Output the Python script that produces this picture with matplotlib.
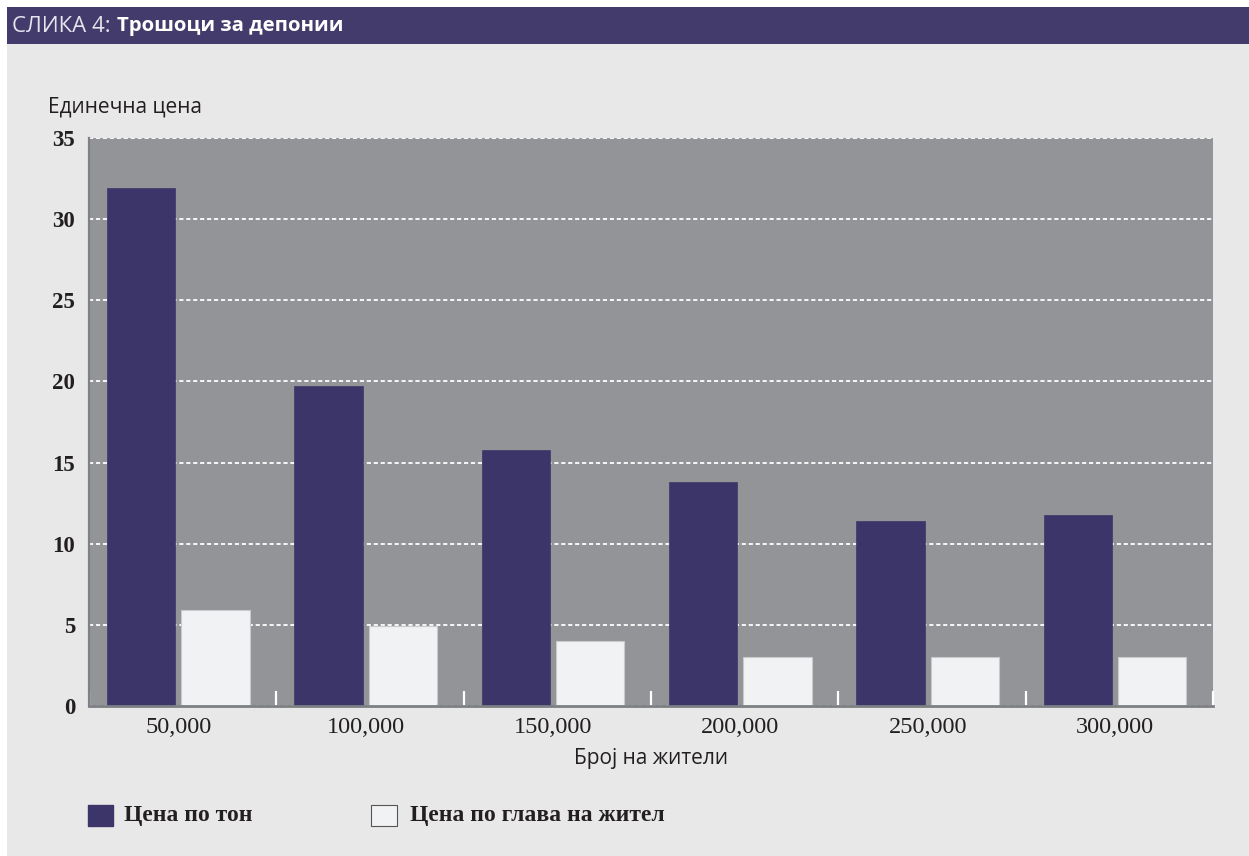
import numpy as np
import matplotlib.pyplot as plt
from matplotlib.patches import Rectangle

plt.rcParams['lines.scale_dashes'] = False

# Трошоци за депонии по број на жители
zhiteli = ["50,000", "100,000", "150,000", "200,000", "250,000", "300,000"]
cena_po_ton = [31.9, 19.7, 15.8, 13.8, 11.4, 11.8]
cena_po_glava = [5.9, 4.9, 4.0, 3.0, 3.0, 3.0]

dark = "#3c3569"
light = "#f1f2f4"
plot_bg = "#939498"
page_bg = "#e8e8e8"
header = "#433b6b"

fig = plt.figure(figsize=(12.49, 8.56), dpi=100)
fig.patch.set_facecolor("white")

# page background and header band
fig.patches.append(Rectangle((7 / 1249, 0), 1, 1 - 44 / 856, transform=fig.transFigure,
                             facecolor=page_bg, edgecolor="none", zorder=-2))
fig.patches.append(Rectangle((7 / 1249, 1 - 44 / 856), 1, 37 / 856, transform=fig.transFigure,
                             facecolor=header, edgecolor="none", zorder=-2))
fig.text(12 / 1249, 1 - 26 / 856, "СЛИКА 4:", color="#e6e4ee", fontsize=16,
         family="Open Sans", va="center", ha="left")
fig.text(117 / 1249, 1 - 26 / 856, "Трошоци за депонии", color="white", fontsize=14.7,
         family="Open Sans", weight="bold", va="center", ha="left")

ax = fig.add_axes([89 / 1249, 1 - 706 / 856, 1124 / 1249, 568 / 856])
ax.set_facecolor(plot_bg)

x = np.arange(len(zhiteli))
w = 0.365
ax.bar(x - 0.222, cena_po_ton, width=w, color=dark, edgecolor=dark, linewidth=0.5, zorder=3)
ax.bar(x + 0.176, cena_po_glava, width=w, color=light, edgecolor="#c9cace", linewidth=0.8, zorder=3)

ax.set_xlim(-0.5, 5.5)
ax.set_ylim(0, 35)
ax.set_yticks(np.arange(0, 36, 5))
ax.yaxis.grid(True, color="white", linestyle=(0, (3, 2)), linewidth=1.3, zorder=1)
ax.set_axisbelow(True)

ax.set_xticks(x - 0.023)
ax.set_xticklabels(zhiteli, family="Liberation Serif", fontsize=17.5, color="#231f20")
ax.set_xticks(np.arange(-0.5, 6, 1), minor=True)
ax.tick_params(axis="x", which="major", length=0, pad=8)
ax.tick_params(axis="x", which="minor", direction="in", length=11, width=1.6, color="white")
ax.tick_params(axis="y", length=0, pad=10)
for lab in ax.get_yticklabels():
    lab.set_family("Liberation Serif")
    lab.set_weight("bold")
    lab.set_fontsize(16.5)
    lab.set_color("#231f20")
    lab.set_verticalalignment("center_baseline")

for side in ["top", "right"]:
    ax.spines[side].set_visible(False)
ax.spines["left"].set_color("#808185")
ax.spines["left"].set_linewidth(1.6)
ax.spines["bottom"].set_color("#7e7f83")
ax.spines["bottom"].set_linewidth(2)
ax.spines["bottom"].set_zorder(4)

ax.set_xlabel("Број на жители", family="Open Sans", fontsize=15, color="#231f20", labelpad=7)
fig.text(48 / 1249, 1 - 107 / 856, "Единечна цена", family="Open Sans", fontsize=15,
         color="#231f20", va="center", ha="left")

# legend
fig.patches.append(Rectangle((88 / 1249, 1 - 826 / 856), 25 / 1249, 21 / 856, transform=fig.transFigure,
                             facecolor=dark, edgecolor=dark, zorder=2))
fig.text(124 / 1249, 1 - 816 / 856, "Цена по тон", family="Liberation Serif", weight="bold",
         fontsize=17, color="#231f20", va="center", ha="left")
fig.patches.append(Rectangle((371 / 1249, 1 - 826 / 856), 26 / 1249, 21 / 856, transform=fig.transFigure,
                             facecolor=light, edgecolor="#555555", linewidth=0.8, zorder=2))
fig.text(410 / 1249, 1 - 816 / 856, "Цена по глава на жител", family="Liberation Serif", weight="bold",
         fontsize=17, color="#231f20", va="center", ha="left")

fig.savefig("out.png", dpi=100, facecolor=fig.get_facecolor())
